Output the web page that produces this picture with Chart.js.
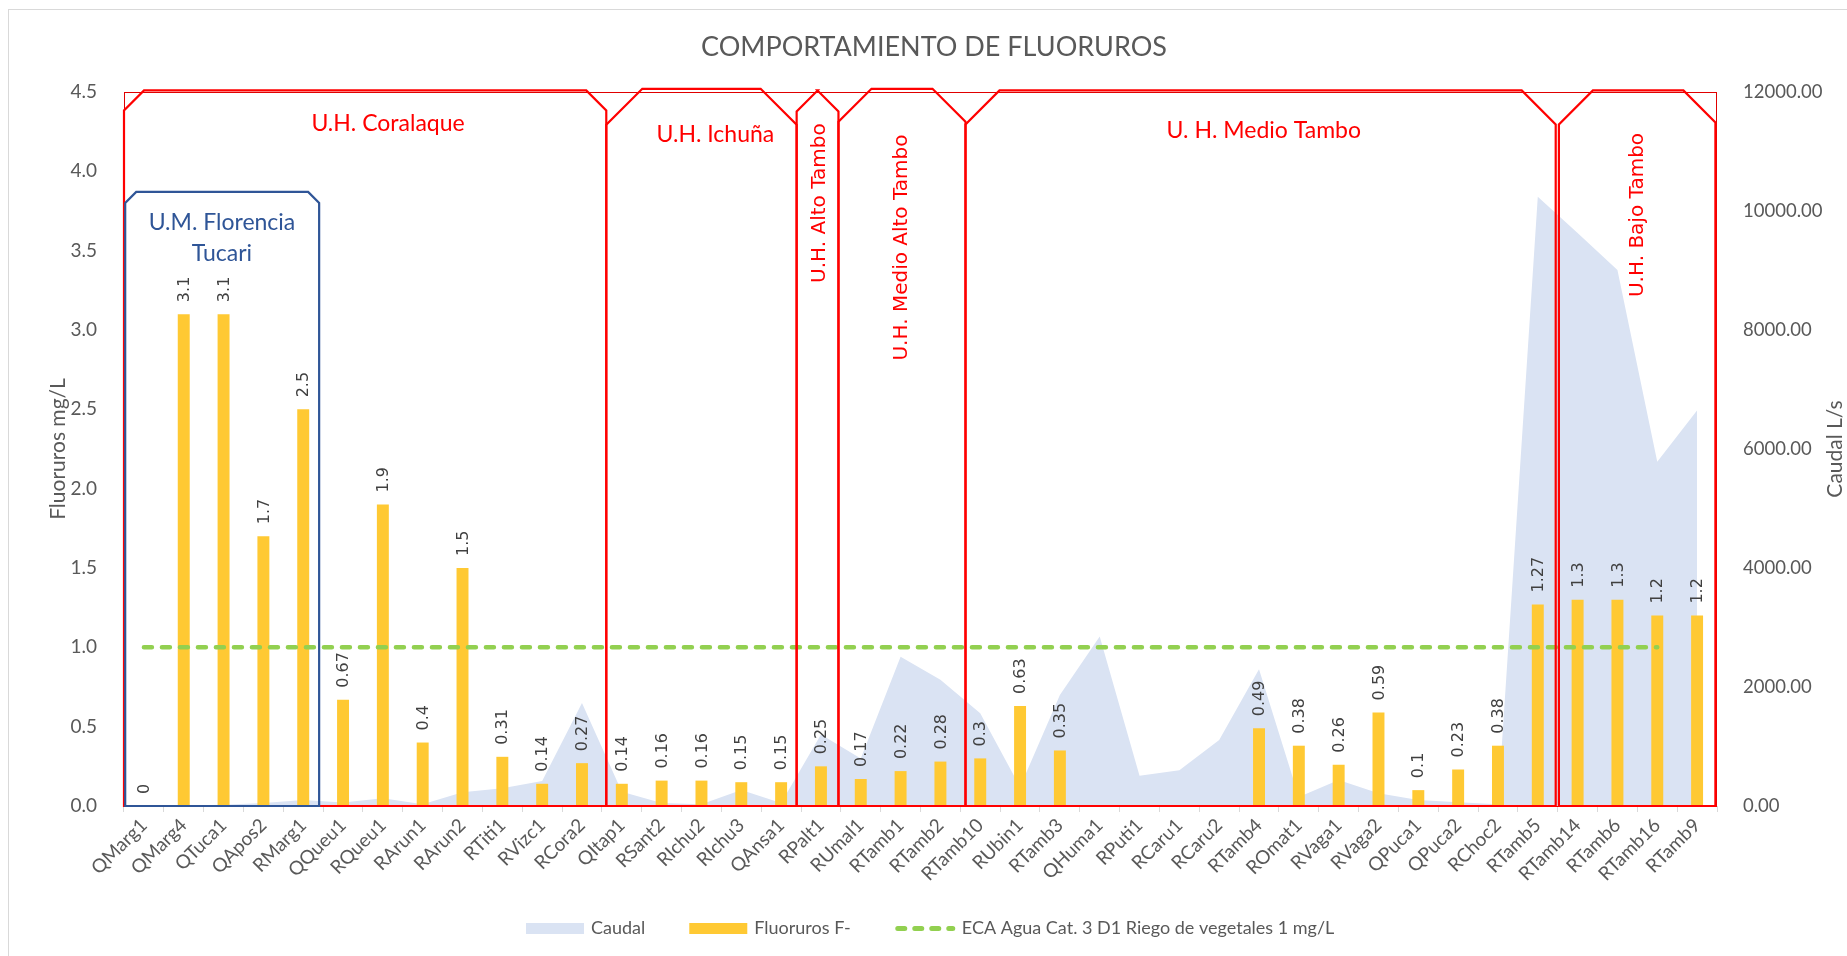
<!DOCTYPE html>
<html><head><meta charset="utf-8">
<script src="https://cdn.jsdelivr.net/npm/chart.js@4.4.1/dist/chart.umd.min.js"></script>
<style>html,body{margin:0;padding:0;background:#fff;}canvas{display:block;}</style>
</head><body>
<canvas id="c" width="1847" height="956"></canvas>
<script>
// ---------- DATA ----------
const categories = ['QMarg1','QMarg4','QTuca1','QApos2','RMarg1','QQueu1','RQueu1','RArun1','RArun2','RTiti1','RVizc1','RCora2','QItap1','RSant2','RIchu2','RIchu3','QAnsa1','RPalt1','RUmal1','RTamb1','RTamb2','RTamb10','RUbin1','RTamb3','QHuma1','RPuti1','RCaru1','RCaru2','RTamb4','ROmat1','RVaga1','RVaga2','QPuca1','QPuca2','RChoc2','RTamb5','RTamb14','RTamb6','RTamb16','RTamb9'];
const fluoruros = [0,3.1,3.1,1.7,2.5,0.67,1.9,0.4,1.5,0.31,0.14,0.27,0.14,0.16,0.16,0.15,0.15,0.25,0.17,0.22,0.28,0.3,0.63,0.35,null,null,null,null,0.49,0.38,0.26,0.59,0.1,0.23,0.38,1.27,1.3,1.3,1.2,1.2];
const caudal = [0,10,20,50,100,60,130,30,230,300,420,1730,240,50,30,270,50,1200,800,2510,2120,1560,320,1865,2850,510,600,1110,2300,150,437,215,100,65,30,10240,9630,9010,5785,6650];
const eca = [1,1,1,1,1,1,1,1,1,1,1,1,1,1,1,1,1,1,1,1,1,1,1,1,1,1,1,1,1,1,1,1,1,1,1,1,1,1,1,null];
const leftTicks = {min:0, max:4.5, step:0.5};
const rightTicks = {min:0, max:12000, step:2000};
const seriesNames = ['Caudal','Fluoruros F-','ECA Agua Cat. 3 D1 Riego de vegetales 1 mg/L'];
const chartTitle = 'COMPORTAMIENTO DE FLUORUROS';
const leftTitle = 'Fluoruros mg/L';
const rightTitle = 'Caudal L/s';

// ---------- ANNOTATION ZONES (category index / left-axis units) ----------
const zoneShapes = [
  {from:-0.5, to:11.61, top:4.51, snipL:20, snipR:20, color:'#FF0000'},
  {from:11.61, to:16.39, top:4.52, snipL:36, snipR:36, color:'#FF0000'},
  {from:16.39, to:17.44, top:4.51, snipL:21, snipR:21, color:'#FF0000'},
  {from:17.44, to:20.63, top:4.52, snipL:33, snipR:33, color:'#FF0000'},
  {from:20.63, to:35.45, top:4.51, snipL:34, snipR:34, color:'#FF0000'},
  {from:35.53, to:39.46, top:4.51, snipL:34, snipR:32, color:'#FF0000'},
  {from:-0.47, to:4.4, top:3.87, snipL:11, snipR:11, color:'#2F5597'}
];
const zoneTexts = [
  {lines:['U.H. Coralaque'], x:6.13, y:4.30, rot:0, color:'#FF0000', font:'23px Lato'},
  {lines:['U.H. Ichuña'], x:14.35, y:4.23, rot:0, color:'#FF0000', font:'23px Lato'},
  {lines:['U.H. Alto Tambo'], x:16.96, y:3.80, rot:-90, color:'#FF0000', font:'20px "DejaVu Sans"'},
  {lines:['U.H. Medio Alto Tambo'], x:19.02, y:3.52, rot:-90, color:'#FF0000', font:'20px "DejaVu Sans"'},
  {lines:['U. H. Medio Tambo'], x:28.12, y:4.26, rot:0, color:'#FF0000', font:'23px Lato'},
  {lines:['U.H. Bajo Tambo'], x:37.5, y:3.725, rot:-90, color:'#FF0000', font:'20px "DejaVu Sans"'},
  {lines:['U.M. Florencia','Tucari'], x:1.96, y:3.58, rot:0, color:'#2F5597', font:'23px Lato', lh:31}
];

const COL_AREA = '#DAE3F3', COL_BAR = '#FFC933', COL_ECA = '#92D050', TXT = '#595959';

const overlay = {
  id:'overlay',
  beforeDraw(chart){
    const c = chart.ctx; c.save(); c.fillStyle='#fff'; c.fillRect(0,0,chart.width,chart.height); c.restore();
  },
  afterDatasetsDraw(chart){
    const c = chart.ctx, xs = chart.scales.x, ys = chart.scales.y, ca = chart.chartArea;
    // data labels
    const meta = chart.getDatasetMeta(1);
    c.save();
    c.font = '16px "DejaVu Sans"'; c.fillStyle = '#404040'; c.textAlign='left'; c.textBaseline='middle';
    meta.data.forEach((el,i)=>{
      const v = fluoruros[i]; if (v===null) return;
      c.save(); c.translate(el.x, el.y - 12); c.rotate(-Math.PI/2); c.fillText(String(v),0,1); c.restore();
    });
    c.restore();
    // outer thin frame
    c.save(); c.strokeStyle='#E00000'; c.lineWidth=1;
    c.strokeRect(ca.left+0.5, ca.top+0.5, ca.right-ca.left-1, ca.bottom-ca.top);
    c.restore();
    // shapes
    zoneShapes.forEach(z=>{
      const l = xs.getPixelForValue(z.from), r = xs.getPixelForValue(z.to);
      const t = ys.getPixelForValue(z.top), b = ys.getPixelForValue(0);
      c.save(); c.strokeStyle = z.color; c.lineWidth = 2.2; c.lineJoin='miter';
      c.beginPath();
      c.moveTo(l,b); c.lineTo(l,t+z.snipL); c.lineTo(l+z.snipL,t);
      c.lineTo(r-z.snipR,t); c.lineTo(r,t+z.snipR); c.lineTo(r,b); c.closePath();
      c.stroke(); c.restore();
    });
    // zone texts
    zoneTexts.forEach(z=>{
      const px = xs.getPixelForValue(z.x), py = ys.getPixelForValue(z.y);
      c.save(); c.font = z.font; c.fillStyle = z.color; c.textAlign='center'; c.textBaseline='middle';
      c.translate(px,py); c.rotate(z.rot*Math.PI/180);
      const lh = z.lh || 0, n = z.lines.length;
      z.lines.forEach((s,k)=> c.fillText(s, 0, (k-(n-1)/2)*lh));
      c.restore();
    });
  },
  afterDraw(chart){
    const c = chart.ctx, ca = chart.chartArea;
    // chart title
    c.save(); c.font='27px Lato'; c.fillStyle=TXT; c.textAlign='center'; c.textBaseline='middle';
    c.fillText(chartTitle, 934, 47); c.restore();
    // right axis title (reads bottom to top)
    c.save(); c.font='21px Lato'; c.fillStyle=TXT; c.textAlign='center'; c.textBaseline='middle';
    c.translate(1835,(ca.top+ca.bottom)/2); c.rotate(-Math.PI/2); c.fillText(rightTitle,0,0); c.restore();
    // legend
    c.save(); c.font='18px Lato'; c.fillStyle=TXT; c.textBaseline='middle'; c.textAlign='left';
    const ly = 928.5; let x = 526;
    const boxW = 58, boxH = 11, gapT = 7, gapI = 44;
    c.fillStyle = COL_AREA; c.fillRect(x, ly-boxH/2, boxW, boxH); x += boxW+gapT;
    c.fillStyle = TXT; c.fillText(seriesNames[0], x, ly); x += c.measureText(seriesNames[0]).width + gapI;
    c.fillStyle = COL_BAR; c.fillRect(x, ly-boxH/2, boxW, boxH); x += boxW+gapT;
    c.fillStyle = TXT; c.fillText(seriesNames[1], x, ly); x += c.measureText(seriesNames[1]).width + gapI;
    c.strokeStyle = COL_ECA; c.lineWidth = 5; c.lineCap='round'; c.setLineDash([7,10]);
    c.beginPath(); c.moveTo(x+3, ly); c.lineTo(x+boxW, ly); c.stroke(); c.setLineDash([]);
    x += boxW+gapT+2;
    c.fillStyle = TXT; c.fillText(seriesNames[2], x, ly);
    c.restore();
    // chart frame
    c.save(); c.strokeStyle='#D9D9D9'; c.lineWidth=1; c.strokeRect(8.5,9.5,1850,960); c.restore();
  }
};

new Chart(document.getElementById('c'), {
  data: {
    labels: categories,
    datasets: [
      {type:'line', label:seriesNames[0], data:caudal, yAxisID:'y1', fill:'origin', backgroundColor:COL_AREA, borderWidth:0, pointRadius:0, tension:0, order:3},
      {type:'bar', label:seriesNames[1], data:fluoruros, yAxisID:'y', backgroundColor:COL_BAR, barPercentage:0.3, categoryPercentage:1, order:2},
      {type:'line', label:seriesNames[2], data:eca, yAxisID:'y', borderColor:COL_ECA, borderWidth:4.5, borderDash:[8,10], borderCapStyle:'round', pointRadius:0, fill:false, spanGaps:false, order:1}
    ]
  },
  options: {
    responsive:false, animation:false, devicePixelRatio:1,
    layout:{padding:{top:92, left:0, right:0, bottom:0}},
    plugins:{
      legend:{display:false}, tooltip:{enabled:false}, title:{display:false}
    },
    scales:{
      x:{
        offset:true,
        grid:{offset:true, drawOnChartArea:false, drawTicks:true, tickLength:6, color:'#D9D9D9'},
        border:{color:'#D9D9D9'},
        ticks:{autoSkip:false, maxRotation:45, minRotation:45, padding:2, color:TXT, font:{family:'Lato', size:19}},
        afterFit(s){ s.height = 150; }
      },
      y:{
        position:'left', min:leftTicks.min, max:leftTicks.max,
        grid:{display:false}, border:{display:false},
        ticks:{stepSize:leftTicks.step, padding:19, color:TXT, font:{family:'Lato', size:19}, callback:v=>Number(v).toFixed(1)},
        title:{display:true, text:leftTitle, color:TXT, font:{family:'Lato', size:21}, padding:{top:46, bottom:0}},
        afterFit(s){ s.width = 124; }
      },
      y1:{
        position:'right', min:rightTicks.min, max:rightTicks.max,
        grid:{display:false}, border:{display:false},
        ticks:{stepSize:rightTicks.step, padding:18, color:TXT, font:{family:'Lato', size:18.5}, callback:v=>Number(v).toFixed(2)},
        afterFit(s){ s.width = 130; }
      }
    }
  },
  plugins:[overlay]
});
</script>
</body></html>
